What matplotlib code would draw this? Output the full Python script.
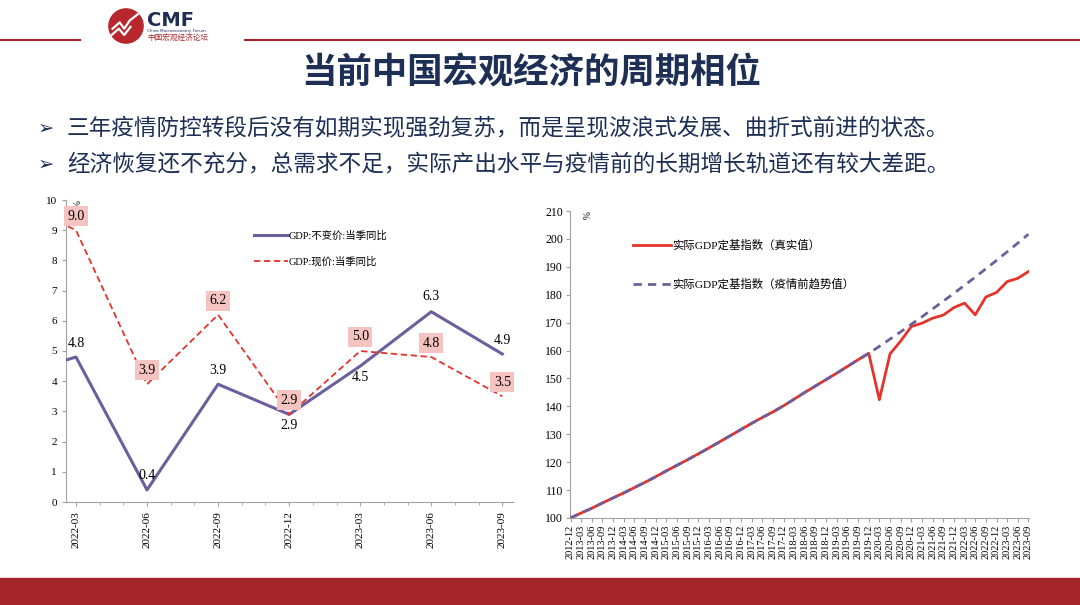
import numpy as np
import matplotlib.pyplot as plt
from matplotlib.patches import Circle, Rectangle
from matplotlib.lines import Line2D

plt.rcParams['font.family'] = ['Noto Sans CJK SC', 'DejaVu Sans']
SERIF = ['Liberation Serif', 'Noto Sans CJK SC']

# ---- data: left chart (GDP growth, %) ----
# the first point (2021-12) sits just outside the visible range
q_left = ["2021-12", "2022-03", "2022-06", "2022-09", "2022-12", "2023-03", "2023-06", "2023-09"]
gdp_real = [4.1, 4.8, 0.4, 3.9, 2.9, 4.5, 6.3, 4.9]
gdp_nominal = [10.1, 9.0, 3.9, 6.2, 2.9, 5.0, 4.8, 3.5]

# ---- data: right chart (real GDP index, 2012-12 = 100) ----
q_right = ["2012-12",
           "2013-03", "2013-06", "2013-09", "2013-12",
           "2014-03", "2014-06", "2014-09", "2014-12",
           "2015-03", "2015-06", "2015-09", "2015-12",
           "2016-03", "2016-06", "2016-09", "2016-12",
           "2017-03", "2017-06", "2017-09", "2017-12",
           "2018-03", "2018-06", "2018-09", "2018-12",
           "2019-03", "2019-06", "2019-09", "2019-12",
           "2020-03", "2020-06", "2020-09", "2020-12",
           "2021-03", "2021-06", "2021-09", "2021-12",
           "2022-03", "2022-06", "2022-09", "2022-12",
           "2023-03", "2023-06", "2023-09"]
index_actual = [100.0, 101.8, 103.5, 105.4, 107.2, 109.0, 110.9, 112.8, 114.8,
                116.9, 118.9, 120.9, 123.0, 125.1, 127.3, 129.5, 131.7,
                133.9, 136.0, 138.0, 140.2, 142.6, 145.0, 147.3, 149.6,
                151.9, 154.3, 156.7, 159.0,
                142.4, 158.8, 163.4, 168.6, 169.8, 171.6, 172.7, 175.4,
                177.0, 172.8, 179.2, 180.8, 184.7, 185.9, 188.3]
index_trend = [100.0, 101.8, 103.5, 105.4, 107.2, 109.0, 110.9, 112.8, 114.8,
               116.9, 118.9, 120.9, 123.0, 125.1, 127.3, 129.5, 131.7,
               133.9, 136.0, 138.0, 140.2, 142.6, 145.0, 147.3, 149.6,
               151.9, 154.3, 156.7, 159.0,
               161.5, 164.1, 166.7, 169.4, 172.1, 174.9, 177.7, 180.5,
               183.4, 186.3, 189.3, 192.3, 195.4, 198.5, 201.7]

title = "当前中国宏观经济的周期相位"
bullets = ["三年疫情防控转段后没有如期实现强劲复苏，而是呈现波浪式发展、曲折式前进的状态。",
           "经济恢复还不充分，总需求不足，实际产出水平与疫情前的长期增长轨道还有较大差距。"]

NAVY = "#1d2f55"
DARKRED = "#a4262c"
PURPLE = "#6b5f9e"
RED = "#e4332a"

W, H = 1080, 605
fig = plt.figure(figsize=(10.8, 6.05), dpi=100)


def fx(x):
    return x / W


def fy(y):
    return 1 - y / H


# ---- header ----
fig.add_artist(Line2D([0, fx(80)], [fy(40), fy(40)], color=DARKRED, lw=1.5))
fig.add_artist(Line2D([fx(245), 1], [fy(40), fy(40)], color=DARKRED, lw=1.5))
logo = fig.add_axes([fx(108), fy(44), fx(36), 36 / H])
logo.set_xlim(-1, 1)
logo.set_ylim(-1, 1)
logo.set_aspect('equal')
logo.axis('off')
logo.add_patch(Circle((0, 0), 0.95, color="#b8262e"))
logo.plot([-0.75, -0.35, -0.1, 0.2, 0.65], [-0.15, 0.2, -0.15, 0.3, 0.65], color='white', lw=1.6)
logo.plot([-0.8, -0.4, -0.1, 0.25], [-0.5, -0.15, -0.5, -0.05], color='white', lw=1.6)
fig.text(fx(147), fy(20), "CMF", fontsize=14, fontweight='bold', color=NAVY,
         family='DejaVu Sans', va='center', ha='left')
fig.text(fx(147), fy(31), "China Macroeconomy Forum", fontsize=3, color=NAVY,
         family='DejaVu Sans', va='center', ha='left')
fig.text(fx(147), fy(38), "中国宏观经济论坛", fontsize=5.5, color=DARKRED, va='center', ha='left')

fig.text(fx(531), fy(73), title, fontsize=25.5, fontweight='bold', color=NAVY, ha='center', va='center')
for i, b in enumerate(bullets):
    yy = fy(128 + 36 * i)
    fig.text(fx(38), yy, "➢", fontsize=14, color=NAVY, family='DejaVu Sans', va='center')
    fig.text(fx(67), yy, b, fontsize=16.3, color=NAVY, va='center', fontweight='medium')

# ---- footer band ----
fig.add_artist(Rectangle((0, 0), 1, 27 / H, color=DARKRED, transform=fig.transFigure))

# ---- left chart ----
ax1 = fig.add_axes([fx(66), fy(502), fx(447), 302 / H])
x1 = np.arange(len(q_left)) - 1
ax1.plot(x1, gdp_real, color=PURPLE, lw=2.2, label="GDP:不变价:当季同比", zorder=3)
ax1.plot(x1, gdp_nominal, color=RED, lw=1.3, ls=(0, (3.5, 2)), label="GDP:现价:当季同比", zorder=3)
ax1.set_xlim(-0.14, 6.15)
ax1.set_ylim(0, 10)
ax1.set_xticks(x1[1:])
ax1.set_xticklabels(q_left[1:], rotation=90, family=SERIF, fontsize=8)
ax1.set_xticks(np.arange(-0.0, 6.1, 1 / 3), minor=True)
ax1.set_yticks(range(0, 11))
ax1.set_yticklabels([str(v) for v in range(0, 11)], family=SERIF, fontsize=8)
for s in ['top', 'right']:
    ax1.spines[s].set_visible(False)
for s in ['left', 'bottom']:
    ax1.spines[s].set_color('#a0a0a0')
ax1.tick_params(axis='both', which='both', color='#a0a0a0', length=3, direction='out')
ax1.tick_params(axis='x', which='minor', length=2)
ax1.text(0.008, 1.0, "%", transform=ax1.transAxes, rotation=-90, fontsize=7,
         family=SERIF, va='top', ha='left')

real_off = [14, 14, 14, -11, -11, 15, 14]
for xi, v, off in zip(x1[1:], gdp_real[1:], real_off):
    ax1.annotate(f"{v:.1f}", (xi, v), xytext=(0, off), textcoords='offset pixels',
                 ha='center', va='center', fontsize=10, family=SERIF, zorder=5)
for xi, v in zip(x1[1:], gdp_nominal[1:]):
    ax1.annotate(f"{v:.1f}", (xi, v), xytext=(0, 14), textcoords='offset pixels',
                 ha='center', va='center', fontsize=10, family=SERIF, zorder=5,
                 bbox=dict(boxstyle='square,pad=0.25', fc='#f5c4c0', ec='none'))
ax1.legend(loc='upper left', bbox_to_anchor=(0.4, 0.93), frameon=False,
           prop={'family': SERIF, 'size': 7.5}, handlelength=3.2, handletextpad=0.1,
           labelspacing=1.5)

# ---- right chart ----
ax2 = fig.add_axes([fx(570), fy(518), fx(459), 307 / H])
x2 = np.arange(len(q_right))
ax2.plot(x2, index_actual, color=RED, lw=2.0, label="实际GDP定基指数（真实值）", zorder=3)
ax2.plot(x2, index_trend, color=PURPLE, lw=2.0, ls=(0, (3, 2.2)), label="实际GDP定基指数（疫情前趋势值）", zorder=4)
ax2.set_xlim(-0.05, len(q_right) - 0.95)
ax2.set_ylim(100, 210)
ax2.set_xticks(x2)
ax2.set_xticklabels(q_right, rotation=90, family=SERIF, fontsize=7.5)
ax2.set_yticks(range(100, 211, 10))
ax2.set_yticklabels([str(v) for v in range(100, 211, 10)], family=SERIF, fontsize=8.5)
for s in ['top', 'right']:
    ax2.spines[s].set_visible(False)
for s in ['left', 'bottom']:
    ax2.spines[s].set_color('#a0a0a0')
ax2.tick_params(axis='both', color='#a0a0a0', length=3, direction='out', pad=2)
ax2.text(0.02, 1.0, "%", transform=ax2.transAxes, rotation=-90, fontsize=7,
         family=SERIF, va='top', ha='left')
ax2.legend(loc='upper left', bbox_to_anchor=(0.115, 0.94), frameon=False,
           prop={'family': SERIF, 'size': 8.2}, handlelength=3.3, handletextpad=0.15,
           labelspacing=2.4)

fig.savefig("out.png", dpi=100)
